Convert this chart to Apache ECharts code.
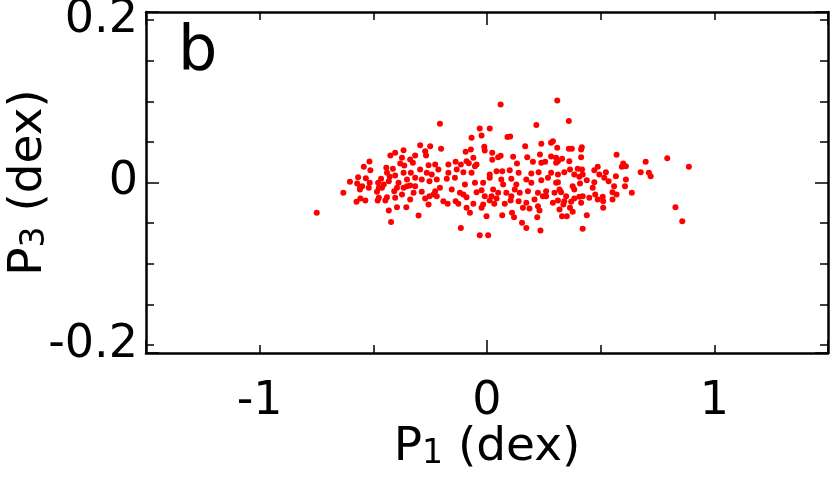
<!DOCTYPE html>
<html><head><meta charset="utf-8">
<script src="https://cdn.jsdelivr.net/npm/echarts@6/dist/echarts.min.js"></script>
<style>html,body{margin:0;padding:0;background:#fff}#c{width:830px;height:502px}</style>
</head><body><div id="c"></div>
<script>
// Tick labels
const xTickValues = [-1, 0, 1];
const xTickLabels = ['-1', '0', '1'];
const yTickValues = [-0.2, 0, 0.2];
const yTickLabels = ['-0.2', '0', '0.2'];
const panelLabel = 'b';

// Scatter points [P1, P3] (dex)
const leftUpper = [[-0.603,0.001],[-0.567,0.0065],[-0.571,-0.0012],[-0.542,0.0194],[-0.517,0.0259],[-0.513,0.0152],[-0.533,0.0053],[-0.516,-0.0004],[-0.558,-0.0062],[-0.479,-0.0004],[-0.466,0.0046],[-0.443,0.0181],[-0.440,0.012],[-0.425,0.0333],[-0.404,0.0366],[-0.414,0.0169],[-0.404,0.0086],[-0.428,0.007],[-0.432,0.0016],[-0.454,-0.0025],[-0.382,0.0234],[-0.367,0.0398],[-0.374,0.0305],[-0.364,0.021],[-0.367,0.012],[-0.352,0.0037],[-0.389,-0.0004],[-0.338,0.0284],[-0.326,0.0243],[-0.316,0.0333],[-0.335,0.012],[-0.316,0.0058],[-0.294,0.046],[-0.272,0.0386],[-0.268,0.0333],[-0.250,0.0448],[-0.294,0.016],[-0.265,0.012],[-0.257,0.0213],[-0.228,0.0222],[-0.287,0.0037],[-0.253,0.0016],[-0.243,0.0099],[-0.396,-0.0065],[-0.338,-0.0037],[-0.476,-0.0065]];
const leftLower = [[-0.749,-0.0374],[-0.632,-0.0127],[-0.574,-0.0238],[-0.557,-0.0197],[-0.535,-0.0222],[-0.559,-0.0086],[-0.549,-0.0046],[-0.520,-0.0065],[-0.484,-0.0115],[-0.476,-0.0189],[-0.481,-0.0222],[-0.462,-0.0065],[-0.440,-0.0181],[-0.447,-0.0222],[-0.432,-0.0345],[-0.422,-0.0485],[-0.408,-0.0107],[-0.404,-0.0189],[-0.396,-0.0305],[-0.374,-0.0148],[-0.367,-0.0065],[-0.355,-0.0305],[-0.338,-0.021],[-0.323,-0.0127],[-0.301,-0.0407],[-0.287,-0.0115],[-0.272,-0.0197],[-0.257,-0.0271],[-0.253,-0.0169],[-0.235,-0.0148],[-0.352,-0.0046],[-0.316,-0.0046]];
const centerUpper = [[0.060,0.0962],[0.309,0.1011],[-0.207,0.0724],[-0.032,0.0666],[0.012,0.0666],[-0.024,0.058],[-0.068,0.0551],[0.090,0.0559],[0.102,0.0567],[0.217,0.0707],[-0.202,0.0416],[-0.012,0.044],[-0.010,0.0395],[-0.071,0.0407],[-0.094,0.0379],[-0.060,0.0305],[0.023,0.0366],[0.049,0.0312],[0.060,0.0329],[0.023,0.028],[0.115,0.0317],[0.168,0.0448],[0.239,0.0477],[0.290,0.0509],[0.282,0.049],[0.309,0.0428],[0.233,0.0345],[0.177,0.0312],[0.282,0.0321],[0.304,0.0305],[0.202,0.0255],[0.239,0.0243],[0.256,0.0255],[0.132,0.0234],[-0.170,0.0222],[-0.138,0.0255],[-0.115,0.0222],[-0.090,0.0263],[-0.080,0.0238],[-0.046,0.0222]];
const centerMiddle = [[-0.053,0.0201],[0.304,0.0243],[-0.214,0.016],[-0.170,0.012],[-0.133,0.016],[-0.104,0.0127],[-0.068,0.012],[0.012,0.0099],[0.042,0.0139],[0.067,0.0139],[0.100,0.0152],[0.139,0.012],[0.195,0.0111],[0.227,0.0127],[0.282,0.012],[0.312,0.0099],[-0.221,0.0037],[-0.177,0.0046],[-0.141,0.0058],[-0.097,-0.0025],[-0.053,-0.0004],[-0.017,-0.0004],[0.012,0.0058],[0.063,0.0037],[0.071,-0.0025],[0.107,0.0046],[0.129,-0.0025],[0.173,0.0037],[0.195,-0.0004],[0.239,0.0028],[0.268,0.0058],[0.304,-0.0004],[-0.228,-0.0107],[-0.207,-0.0065],[-0.155,-0.0086],[-0.119,-0.0127],[-0.104,-0.0148],[-0.046,-0.012],[-0.024,-0.0095],[0.027,-0.0086],[0.049,-0.0127],[0.085,-0.0127],[0.122,-0.0086],[0.144,-0.0127],[0.180,-0.0107],[0.224,-0.0127],[0.260,-0.0107],[0.297,-0.0127],[0.319,-0.0086],[-0.010,-0.0169],[0.107,-0.0169],[0.246,-0.0169]];
const centerLower = [[-0.221,-0.0169],[-0.192,-0.0231],[-0.173,-0.0263],[-0.138,-0.0231],[-0.126,-0.0263],[-0.090,-0.0312],[-0.075,-0.0374],[-0.060,-0.0263],[-0.090,-0.0181],[-0.024,-0.0312],[-0.017,-0.0271],[0.012,-0.0222],[0.032,-0.0263],[0.042,-0.0197],[-0.002,-0.0416],[0.067,-0.0403],[0.078,-0.0263],[0.104,-0.0222],[0.110,-0.0374],[0.119,-0.0428],[0.139,-0.0231],[0.158,-0.0312],[0.173,-0.025],[0.187,-0.0321],[0.209,-0.021],[0.224,-0.0292],[0.231,-0.0345],[0.221,-0.0428],[0.260,-0.0169],[0.290,-0.025],[0.319,-0.0333],[0.154,-0.0497],[0.173,-0.0559],[0.235,-0.0592],[-0.115,-0.0559],[-0.032,-0.065],[0.005,-0.065],[0.020,-0.0169]];
const rightUpper = [[0.360,0.0756],[0.360,0.0416],[0.373,0.0416],[0.417,0.0435],[0.414,0.0407],[0.330,0.0292],[0.414,0.0312],[0.570,0.0342],[0.599,0.0234],[0.698,0.0255],[0.793,0.03]];
const rightMiddle = [[0.312,0.0263],[0.362,0.0263],[0.340,0.0127],[0.365,0.016],[0.384,0.0099],[0.399,0.0169],[0.418,0.016],[0.406,0.007],[0.421,0.0099],[0.439,0.0028],[0.409,-0.0012],[0.377,-0.0046],[0.384,-0.0086],[0.312,0.0004],[0.326,-0.012],[0.472,0.0152],[0.487,0.0194],[0.494,0.0099],[0.516,0.0058],[0.523,0.0127],[0.535,0.0016],[0.472,0.0004],[0.465,-0.0065],[0.476,-0.0148],[0.559,-0.0046],[0.552,-0.012],[0.570,-0.0148],[0.567,0.0078],[0.593,0.0194],[0.611,0.0201],[0.611,0.0037],[0.607,-0.0046],[0.637,-0.0127],[0.676,0.0127],[0.712,0.012],[0.720,0.0078],[0.888,0.0194],[0.406,-0.0176],[0.450,-0.0189],[0.509,-0.0176],[0.348,-0.0169]];
const rightLower = [[0.312,-0.0222],[0.340,-0.0231],[0.336,-0.0271],[0.370,-0.0238],[0.384,-0.0197],[0.414,-0.025],[0.421,-0.0169],[0.365,-0.0312],[0.377,-0.0361],[0.330,-0.0416],[0.351,-0.0416],[0.439,-0.0403],[0.421,-0.0571],[0.487,-0.021],[0.511,-0.0231],[0.511,-0.0312],[0.552,-0.021],[0.829,-0.0305],[0.859,-0.0477]];

const points = [].concat(leftUpper, leftLower, centerUpper, centerMiddle, centerLower, rightUpper, rightMiddle, rightLower);

function labelFor(values, labels) {
  return function (v) {
    for (let i = 0; i < values.length; i++) {
      if (Math.abs(v - values[i]) < 1e-6) return labels[i];
    }
    return '';
  };
}

const FONT = 'DejaVu Sans';
const nameRich = {
  a: {fontSize: 47, lineHeight: 47, fontFamily: FONT, color: '#000'},
  s: {fontSize: 33, lineHeight: 10, fontFamily: FONT, color: '#000', verticalAlign: 'bottom'}
};
const gridRect = {left: 146, right: 2, top: 12, bottom: 149, containLabel: false, outerBoundsMode: 'none'};
const axisLineStyle = {color: '#000', width: 2.5};
const tickStyle = {color: '#000', width: 1.5};

function frameAxis(extra) {
  return Object.assign({
    type: 'value',
    axisLine: {show: true, onZero: false, lineStyle: axisLineStyle},
    axisTick: {show: true, inside: true, length: 8, lineStyle: tickStyle},
    axisLabel: {show: false},
    splitLine: {show: false}
  }, extra);
}
function zeroAxis(extra) {
  return Object.assign({
    type: 'value',
    axisLine: {show: false, onZero: false},
    axisTick: {show: true, inside: true, length: 13, lineStyle: tickStyle},
    axisLabel: {show: false},
    splitLine: {show: false}
  }, extra);
}

const chart = echarts.init(document.getElementById('c'), null, {renderer: 'canvas'});
chart.setOption({
  animation: false,
  backgroundColor: '#fff',
  title: {
    text: panelLabel, left: 173, top: 17,
    textStyle: {fontSize: 62, fontWeight: 'normal', fontFamily: FONT, color: '#000'}
  },
  grid: [Object.assign({}, gridRect), Object.assign({}, gridRect)],
  xAxis: [
    frameAxis({
      gridIndex: 0, position: 'bottom', min: -1.5, max: 1.5, interval: 0.5,
      axisLabel: {show: true, margin: 26, fontSize: 46, fontFamily: FONT, color: '#000',
                  formatter: labelFor(xTickValues, xTickLabels)},
      name: '{a|P}{s|1}{a| (dex)}', nameLocation: 'middle', nameGap: 71,
      nameMoveOverlap: false,
      nameTextStyle: {rich: nameRich}
    }),
    frameAxis({gridIndex: 0, position: 'top', min: -1.5, max: 1.5, interval: 0.5}),
    zeroAxis({gridIndex: 1, position: 'bottom', min: -1.5, max: 1.5, interval: 1.5}),
    zeroAxis({gridIndex: 1, position: 'top', min: -1.5, max: 1.5, interval: 1.5})
  ],
  yAxis: [
    frameAxis({
      gridIndex: 0, position: 'left', min: -0.21, max: 0.21, splitNumber: 8,
      minInterval: 0.05, maxInterval: 0.05,
      axisLabel: {show: true, margin: 8, fontSize: 46, fontFamily: FONT, color: '#000',
                  formatter: labelFor(yTickValues, yTickLabels)},
      name: '{a|P}{s|3}{a| (dex)}', nameLocation: 'middle', nameGap: 94,
      nameMoveOverlap: false,
      nameTextStyle: {rich: nameRich}
    }),
    frameAxis({gridIndex: 0, position: 'right', min: -0.21, max: 0.21, splitNumber: 8,
               minInterval: 0.05, maxInterval: 0.05}),
    zeroAxis({gridIndex: 1, position: 'left', min: -0.21, max: 0.21, interval: 0.21}),
    zeroAxis({gridIndex: 1, position: 'right', min: -0.21, max: 0.21, interval: 0.21})
  ],
  series: [{
    type: 'scatter', xAxisIndex: 0, yAxisIndex: 0, data: points,
    symbol: 'circle', symbolSize: 6, silent: true,
    itemStyle: {color: '#ff0000', opacity: 1}
  }]
});
</script>
</body></html>
